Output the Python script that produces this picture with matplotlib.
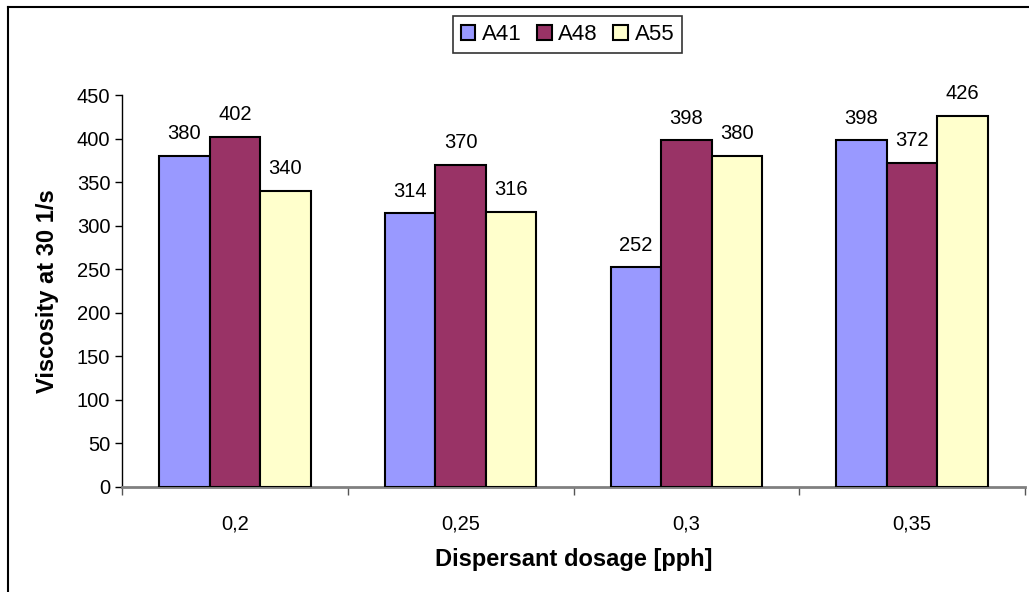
import matplotlib.pyplot as plt
import numpy as np
from matplotlib.lines import Line2D

plt.rcParams['font.family'] = ['Liberation Sans', 'DejaVu Sans']

dosage = ["0,2", "0,25", "0,3", "0,35"]
a41 = [380, 314, 252, 398]
a48 = [402, 370, 398, 372]
a55 = [340, 316, 380, 426]
series = ["A41", "A48", "A55"]
colors = ["#9999FF", "#993366", "#FFFFCC"]

fig = plt.figure(figsize=(10.29, 5.92), dpi=100)
ax = fig.add_axes([0.1186, 0.1774, 0.8775, 0.6621])

x = np.arange(len(dosage))
w = 0.224
for i, (name, vals) in enumerate(zip(series, [a41, a48, a55])):
    pos = x + (i - 1) * w
    ax.bar(pos, vals, width=w, color=colors[i], edgecolor="black",
           linewidth=1.5, label=name, zorder=3)
    for px, v in zip(pos, vals):
        ax.annotate(str(v), (px, v), xytext=(0, 9), textcoords="offset points",
                    ha="center", va="bottom", fontsize=14.5)

ax.set_xlim(-0.5, len(dosage) - 0.5)
ax.set_ylim(0, 450)
ax.set_yticks(range(0, 451, 50))
ax.set_xticks(x)
ax.set_xticklabels(dosage, fontsize=14.5)
ax.set_xticks(np.arange(-0.5, len(dosage)), minor=True)
ax.tick_params(axis="x", which="major", length=0, pad=20)
ax.tick_params(axis="x", which="minor", length=6, width=1, color="#555555", direction="out")
ax.tick_params(axis="y", length=5, width=1, labelsize=14.5, direction="out")

for s in ["top", "right"]:
    ax.spines[s].set_visible(False)
ax.spines["bottom"].set_color("#808080")
ax.spines["bottom"].set_linewidth(2)
ax.spines["left"].set_linewidth(1)

ax.set_ylabel("Viscosity at 30 1/s", fontsize=17, fontweight="bold", labelpad=13)
ax.set_xlabel("Dispersant dosage [pph]", fontsize=17, fontweight="bold", labelpad=10)

leg = fig.legend(loc="center", bbox_to_anchor=(0.5515, 0.9417), ncol=3,
                 fontsize=16, frameon=True, fancybox=False, handlelength=0.65,
                 handleheight=0.65, handletextpad=0.3, columnspacing=0.7,
                 borderpad=0.35, edgecolor="black")
leg.get_frame().set_linewidth(1.2)

# outer frame (only top and left visible in the crop)
fig.add_artist(Line2D([8 / 1029, 8 / 1029], [0, 1 - 7 / 592], color="black",
                      lw=1.5, transform=fig.transFigure))
fig.add_artist(Line2D([8 / 1029, 1], [1 - 7 / 592, 1 - 7 / 592], color="black",
                      lw=1.5, transform=fig.transFigure))

fig.savefig("out.png", dpi=100)
